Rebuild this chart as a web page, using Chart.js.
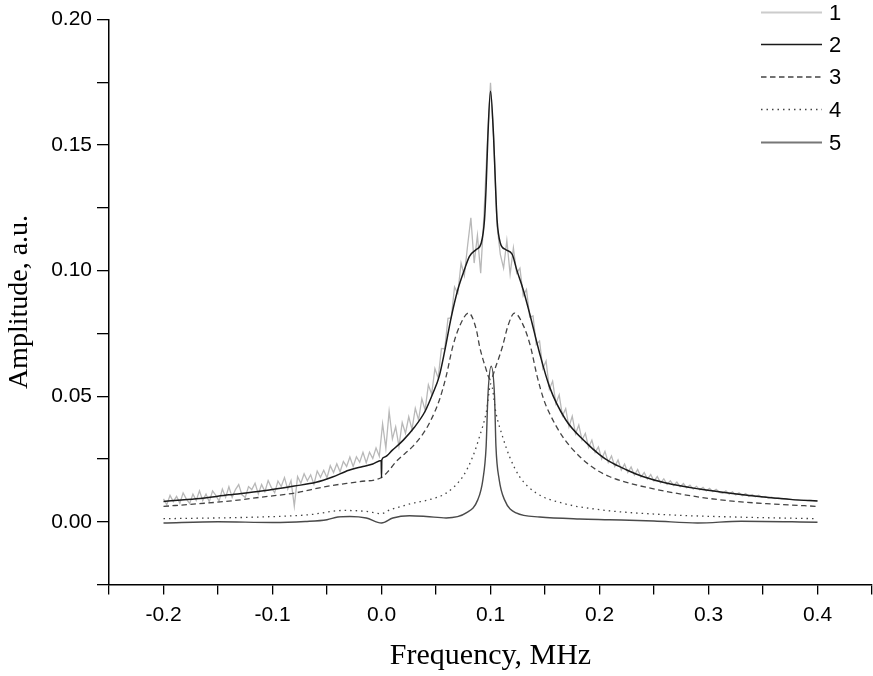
<!DOCTYPE html>
<html>
<head>
<meta charset="utf-8">
<title>Amplitude vs frequency</title>
<script src="https://cdn.jsdelivr.net/npm/chart.js@4/dist/chart.umd.min.js"></script>
<style>
  html, body { margin: 0; padding: 0; background: #fff; }
  #chart { display: block; }
</style>
</head>
<body>
<canvas id="chart" width="873" height="676"></canvas>
<script>
// --- Data

// curve 1: measured spectrum, sampled every 0.003 MHz from -0.2 MHz
var measuredStart = -0.2;
var measuredStep = 0.003;
var ampMeasured = [
  0.0091, 0.0068, 0.0105, 0.0080, 0.0101, 0.0074, 0.0115, 0.0090, 0.0073, 0.0110,
  0.0085, 0.0123, 0.0084, 0.0110, 0.0079, 0.0123, 0.0105, 0.0082, 0.0130, 0.0097,
  0.0139, 0.0097, 0.0128, 0.0148, 0.0107, 0.0097, 0.0140, 0.0128, 0.0153, 0.0111,
  0.0148, 0.0120, 0.0164, 0.0136, 0.0116, 0.0162, 0.0140, 0.0176, 0.0130, 0.0164,
  0.0062, 0.0180, 0.0153, 0.0191, 0.0163, 0.0187, 0.0149, 0.0202, 0.0177, 0.0205,
  0.0175, 0.0223, 0.0196, 0.0231, 0.0199, 0.0240, 0.0220, 0.0258, 0.0220, 0.0259,
  0.0237, 0.0276, 0.0235, 0.0277, 0.0252, 0.0294, 0.0261, 0.0390, 0.0292, 0.0440,
  0.0330, 0.0378, 0.0300, 0.0395, 0.0352, 0.0418, 0.0368, 0.0452, 0.0405, 0.0490,
  0.0445, 0.0545, 0.0508, 0.0610, 0.0572, 0.0690, 0.0688, 0.0810, 0.0812, 0.0935,
  0.0910, 0.1030, 0.0980, 0.1100, 0.1210, 0.1030, 0.1140, 0.0990, 0.1220, 0.1500,
  0.1748, 0.1520, 0.1180, 0.1065, 0.1010, 0.1120, 0.0985, 0.1090, 0.0990, 0.1010,
  0.0900, 0.0925, 0.0815, 0.0820, 0.0705, 0.0720, 0.0610, 0.0640, 0.0528, 0.0560,
  0.0470, 0.0505, 0.0422, 0.0450, 0.0378, 0.0420, 0.0350, 0.0385, 0.0325, 0.0352,
  0.0296, 0.0325, 0.0276, 0.0298, 0.0250, 0.0280, 0.0236, 0.0262, 0.0220, 0.0246,
  0.0206, 0.0230, 0.0196, 0.0218, 0.0186, 0.0208, 0.0178, 0.0196, 0.0170, 0.0188,
  0.0162, 0.0180, 0.0155, 0.0171, 0.0149, 0.0163, 0.0144, 0.0158, 0.0139, 0.0152,
  0.0135, 0.0146, 0.0130, 0.0141, 0.0127, 0.0137, 0.0123, 0.0133, 0.0120, 0.0129,
  0.0117, 0.0113, 0.0123, 0.0110, 0.0119, 0.0107, 0.0115, 0.0104, 0.0112, 0.0101,
  0.0108, 0.0099, 0.0105, 0.0097, 0.0101, 0.0094, 0.0098, 0.0092, 0.0095, 0.0091,
  0.0092, 0.0089, 0.0089, 0.0087, 0.0088, 0.0086, 0.0086, 0.0084, 0.0085, 0.0083, 0.0083
];

// curve 2: total fit
var freqFit = [-0.2, -0.17, -0.14, -0.11, -0.08, -0.06, -0.045, -0.03, -0.017, -0.008,
  -0.0003, 0, 0.0003, 0.003, 0.01, 0.02, 0.03, 0.04, 0.047, 0.053, 0.058, 0.064, 0.07,
  0.0761, 0.0807, 0.0869, 0.0915, 0.0945, 0.096, 0.0976, 0.1, 0.1028, 0.1046, 0.106,
  0.109, 0.1138, 0.12, 0.124, 0.13, 0.1358, 0.145, 0.154, 0.169, 0.188, 0.2, 0.209,
  0.2245, 0.2397, 0.261, 0.2917, 0.322, 0.353, 0.377, 0.4];
var ampFit = [0.0081, 0.0091, 0.0107, 0.0122, 0.0142, 0.0157, 0.0178, 0.0205, 0.022, 0.023,
  0.0244, 0.0175, 0.0247, 0.0258, 0.0285, 0.0325, 0.0375, 0.044, 0.051, 0.058, 0.068, 0.0815, 0.0924,
  0.1004, 0.1057, 0.1084, 0.111, 0.1203, 0.1336, 0.1535, 0.1714, 0.1535, 0.1336, 0.1203,
  0.111, 0.1084, 0.1064, 0.1004, 0.0924, 0.0831, 0.0672, 0.0539, 0.0406, 0.0314, 0.0267, 0.0240,
  0.0207, 0.018, 0.0154, 0.013, 0.0112, 0.0097, 0.0088, 0.0083];

// curve 3: split doublet (dashed)
var freqDoublet = [-0.2, -0.17, -0.14, -0.11, -0.08, -0.05, -0.02, 0, 0.007, 0.0135, 0.0287,
  0.038, 0.044, 0.0532, 0.0593, 0.0654, 0.0716, 0.08, 0.087, 0.09, 0.095, 0.1, 0.105, 0.111,
  0.116, 0.122, 0.1305, 0.1367, 0.1428, 0.1489, 0.154, 0.166, 0.1817, 0.197, 0.209, 0.2306,
  0.261, 0.2917, 0.322, 0.353, 0.4];
var ampDoublet = [0.0061, 0.0071, 0.0082, 0.0098, 0.0114, 0.0141, 0.016, 0.0176, 0.0205, 0.024, 0.03,
  0.035, 0.0393, 0.0486, 0.0579, 0.0698, 0.0778, 0.0831, 0.0765, 0.0698, 0.062, 0.0566, 0.062, 0.0698,
  0.078, 0.0831, 0.0778, 0.0698, 0.0579, 0.0486, 0.0433, 0.034, 0.026, 0.0207, 0.018, 0.015,
  0.0121, 0.0098, 0.0082, 0.0072, 0.0061];

// curve 4: broad central line (dotted)
var freqBroad = [-0.2, -0.11, -0.066, -0.035, -0.014, 0, 0.008, 0.0135, 0.0287, 0.044, 0.0593,
  0.0746, 0.0838, 0.09, 0.096, 0.1005, 0.105, 0.111, 0.1174, 0.1266, 0.142, 0.166, 0.2, 0.261,
  0.322, 0.4];
var ampBroad = [0.0012, 0.0019, 0.0028, 0.0045, 0.0041, 0.0032, 0.0048, 0.0055, 0.0074, 0.0088, 0.0114,
  0.018, 0.026, 0.034, 0.0433, 0.055, 0.0433, 0.034, 0.026, 0.018, 0.0114, 0.0074, 0.0048, 0.0028,
  0.0019, 0.0012];

// curve 5: narrow central line
var freqNarrow = [-0.2, -0.15, -0.1, -0.07, -0.05, -0.04, -0.029, -0.014, 0, 0.0104, 0.0257,
  0.041, 0.0593, 0.0777, 0.0884, 0.093, 0.096, 0.0976, 0.1006, 0.1037, 0.105, 0.108, 0.1128,
  0.1235, 0.145, 0.1817, 0.209, 0.25, 0.29, 0.33, 0.4];
var ampNarrow = [-0.0005, 0, -0.0003, 0.0001, 0.0008, 0.0019, 0.0021, 0.0015, -0.0005, 0.0015, 0.0024,
  0.0021, 0.0015, 0.0035, 0.0088, 0.0167, 0.03, 0.0499, 0.0619, 0.0499, 0.03, 0.0167, 0.0088,
  0.0035, 0.0019, 0.0011, 0.0008, 0.0003, -0.0005, 0.0002, -0.0002];

// axes and legend
var xTickValues = [-0.25, -0.2, -0.15, -0.1, -0.05, 0, 0.05, 0.1, 0.15, 0.2, 0.25, 0.3, 0.35, 0.4, 0.45];
var xTickLabels = ["", "-0.2", "", "-0.1", "", "0.0", "", "0.1", "", "0.2", "", "0.3", "", "0.4", ""];
var yTickValues = [-0.025, 0, 0.025, 0.05, 0.075, 0.1, 0.125, 0.15, 0.175, 0.2];
var yTickLabels = ["", "0.00", "", "0.05", "", "0.10", "", "0.15", "", "0.20"];
var legendLabels = ["1", "2", "3", "4", "5"];

(function () {
  "use strict";

  function toPoints(xs, ys) {
    return ys.map(function (y, i) { return { x: xs[i], y: y }; });
  }

  var measuredPoints = ampMeasured.map(function (y, i) {
    return { x: measuredStart + i * measuredStep, y: y };
  });

  // --- Legend drawn inside the plot, top right
  var insideLegend = {
    id: "insideLegend",
    afterDatasetsDraw: function (chart) {
      var ctx = chart.ctx;
      var x0 = 761, x1 = 822, tx = 829;
      var rows = [12.5, 44.5, 77, 109.5, 142.5];
      ctx.save();
      chart.data.datasets.forEach(function (ds, i) {
        ctx.beginPath();
        ctx.strokeStyle = ds.legendColor || ds.borderColor;
        ctx.lineWidth = ds.legendWidth || ds.borderWidth;
        ctx.setLineDash(ds.borderDash || []);
        ctx.moveTo(x0, rows[i]);
        ctx.lineTo(x1, rows[i]);
        ctx.stroke();
        ctx.setLineDash([]);
        ctx.fillStyle = "#000";
        ctx.font = "22px 'Liberation Sans', Arial, sans-serif";
        ctx.textBaseline = "middle";
        ctx.textAlign = "left";
        ctx.fillText(legendLabels[i], tx, rows[i] + 1);
      });
      ctx.restore();
    }
  };

  var line = { pointRadius: 0, fill: false, cubicInterpolationMode: "monotone" };

  new Chart(document.getElementById("chart"), {
    type: "line",
    data: {
      datasets: [
        { label: legendLabels[0], data: measuredPoints, borderColor: "#b8b8b8", borderWidth: 1.3,
          legendColor: "#cccccc", legendWidth: 2, pointRadius: 0, tension: 0, order: 5 },
        Object.assign({ label: legendLabels[1], data: toPoints(freqFit, ampFit),
          borderColor: "#1a1a1a", borderWidth: 1.5, order: 1 }, line),
        Object.assign({ label: legendLabels[2], data: toPoints(freqDoublet, ampDoublet),
          borderColor: "#444", borderWidth: 1.3, borderDash: [5.5, 3.5], order: 2 }, line),
        Object.assign({ label: legendLabels[3], data: toPoints(freqBroad, ampBroad),
          borderColor: "#444", borderWidth: 1.3, borderDash: [1.5, 4], order: 3 }, line),
        Object.assign({ label: legendLabels[4], data: toPoints(freqNarrow, ampNarrow),
          borderColor: "#4a4a4a", borderWidth: 1.4, legendColor: "#777", legendWidth: 2, order: 4 }, line)
      ]
    },
    options: {
      responsive: false,
      animation: false,
      devicePixelRatio: 1,
      layout: { padding: { top: 19.5, right: 1, left: 0, bottom: 0 } },
      plugins: { legend: { display: false }, tooltip: { enabled: false } },
      scales: {
        x: {
          type: "linear",
          position: "bottom",
          min: -0.25,
          max: 0.45,
          afterBuildTicks: function (scale) {
            scale.ticks = xTickValues.map(function (v) { return { value: v }; });
          },
          afterFit: function (scale) {
            scale.height = 91.5;
            scale.paddingLeft = 0;
            scale.paddingRight = 0;
          },
          ticks: {
            autoSkip: false,
            maxRotation: 0,
            padding: 8,
            color: "#000",
            font: { family: "'Liberation Sans', Arial, sans-serif", size: 21 },
            callback: function (v, i) { return xTickLabels[i]; }
          },
          grid: { drawOnChartArea: false, drawTicks: true, tickLength: 10, color: "#000", lineWidth: 1.3 },
          border: { display: true, color: "#000", width: 1.5 },
          title: {
            display: true,
            text: "Frequency, MHz",
            color: "#000",
            font: { family: "'Liberation Serif', 'Times New Roman', serif", size: 30, lineHeight: 1.2 },
            padding: { top: 0, bottom: 2 }
          }
        },
        y: {
          type: "linear",
          min: -0.025,
          max: 0.2,
          afterBuildTicks: function (scale) {
            scale.ticks = yTickValues.map(function (v) { return { value: v }; });
          },
          afterFit: function (scale) { scale.width = 109; },
          ticks: {
            autoSkip: false,
            padding: 5,
            color: "#000",
            font: { family: "'Liberation Sans', Arial, sans-serif", size: 21 },
            callback: function (v, i) { return yTickLabels[i]; }
          },
          grid: { drawOnChartArea: false, drawTicks: true, tickLength: 12, color: "#000", lineWidth: 1.3 },
          border: { display: true, color: "#000", width: 1.5 },
          title: {
            display: true,
            text: "Amplitude, a.u.",
            color: "#000",
            font: { family: "'Liberation Serif', 'Times New Roman', serif", size: 28, lineHeight: 1.2 },
            padding: { top: 3, bottom: 0 }
          }
        }
      }
    },
    plugins: [insideLegend]
  });
})();
</script>
</body>
</html>
